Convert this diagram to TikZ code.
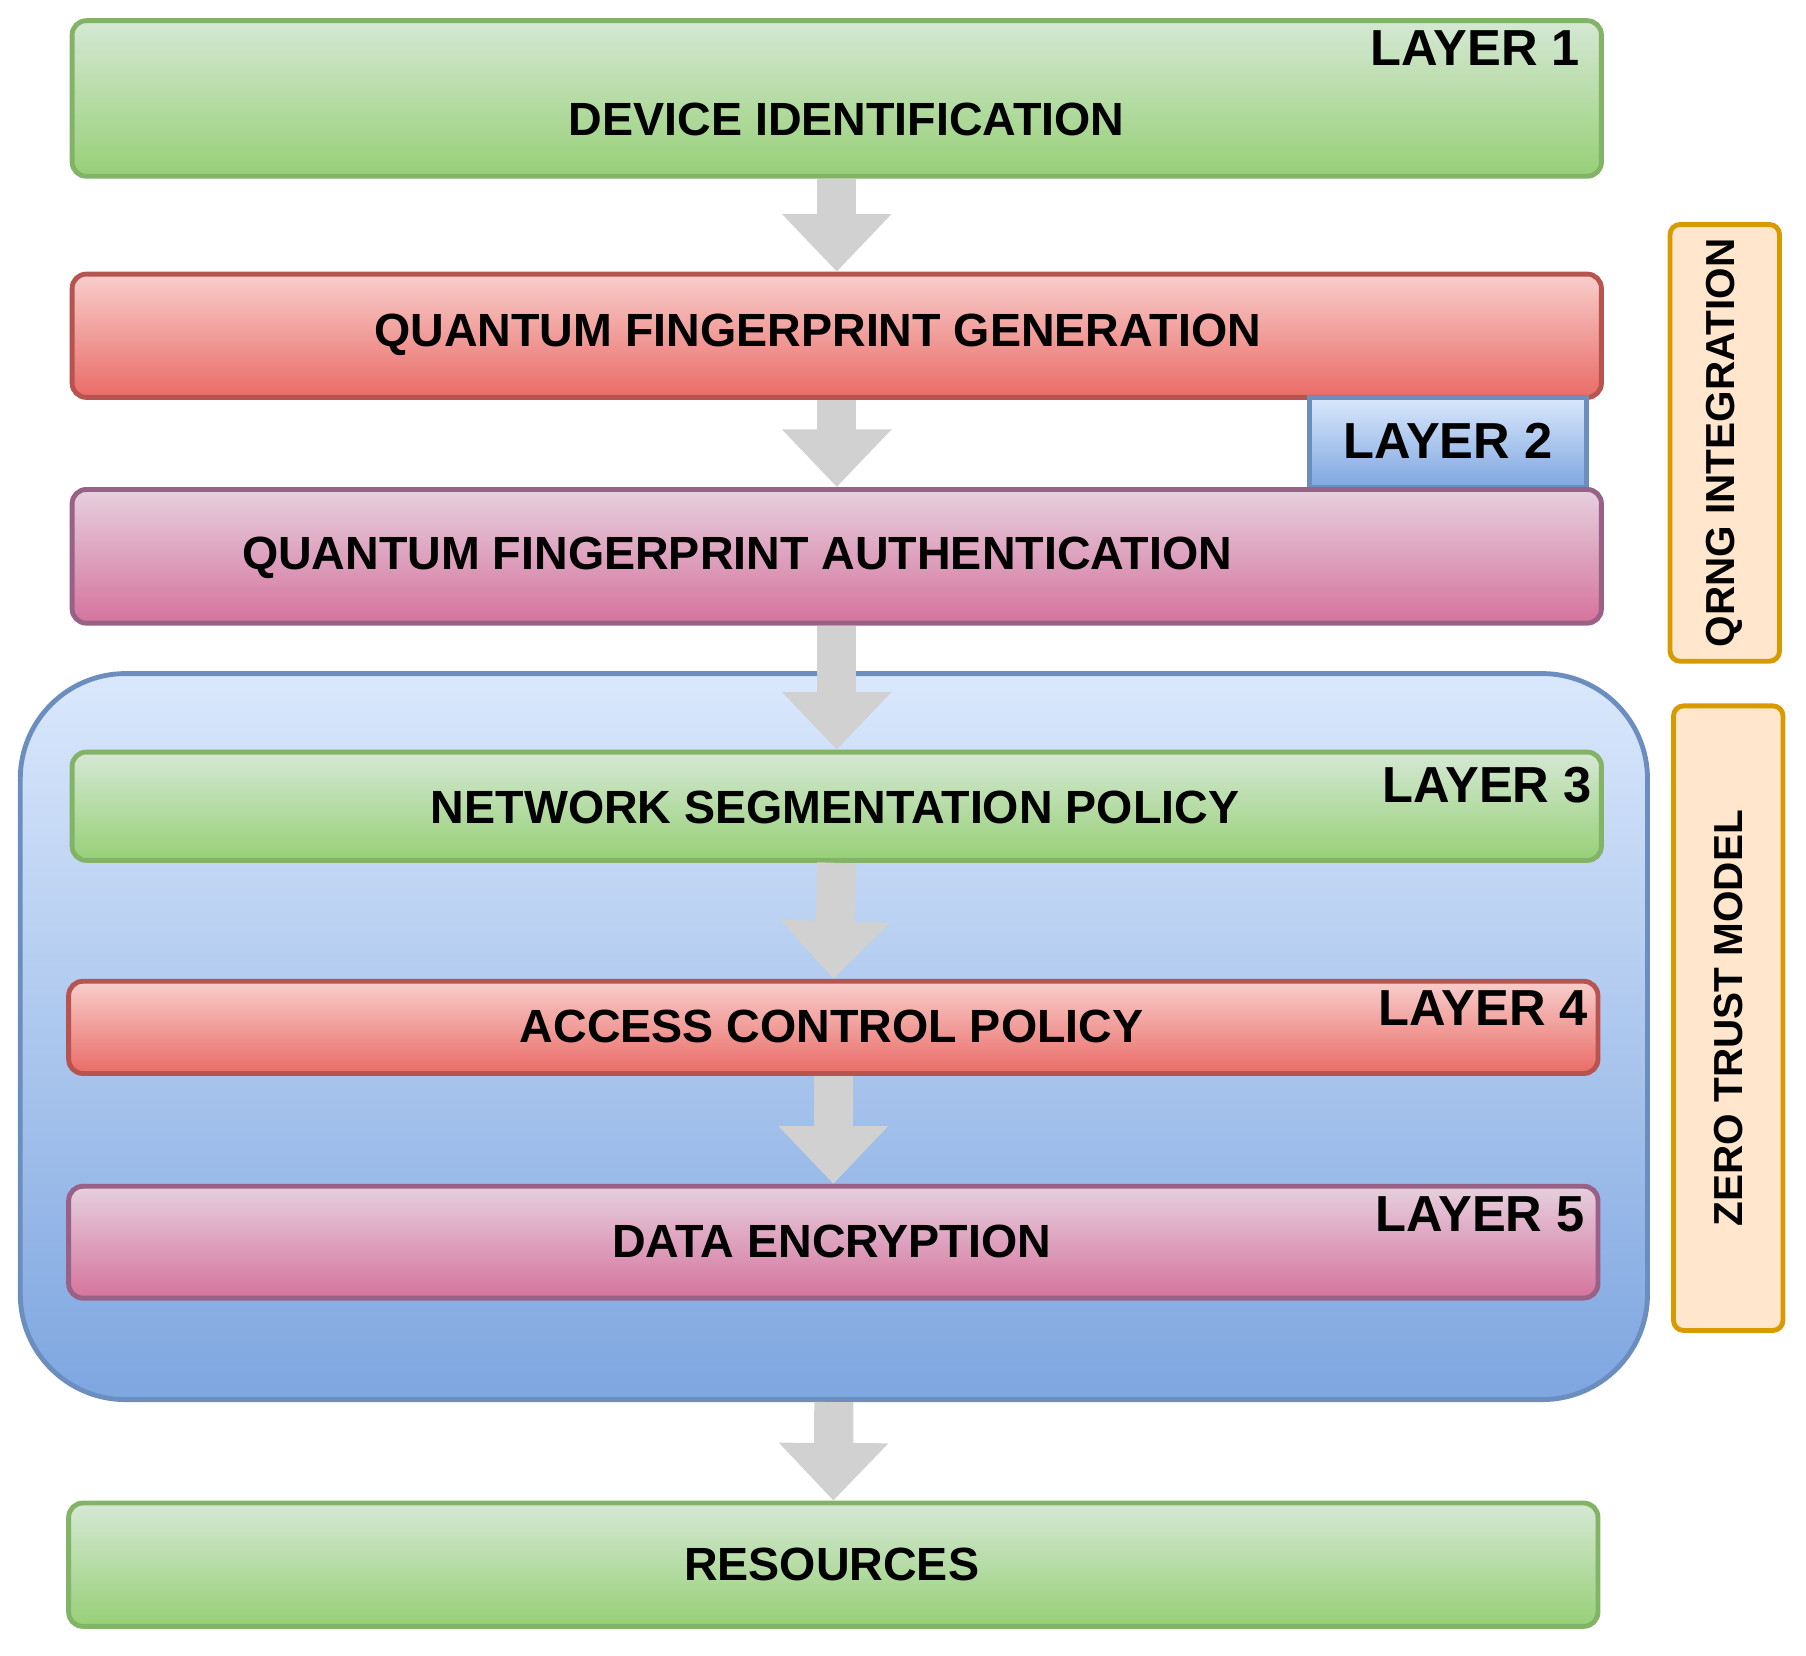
\documentclass[tikz,border=0pt]{standalone}
\usepackage{fontspec}
\setmainfont{Liberation Sans}
\usetikzlibrary{arrows.meta}
\definecolor{GreenTop}{HTML}{D5E8D4}
\definecolor{GreenBot}{HTML}{97D077}
\definecolor{GreenLine}{HTML}{82B366}
\definecolor{RedTop}{HTML}{F8CECC}
\definecolor{RedBot}{HTML}{EA6B66}
\definecolor{RedLine}{HTML}{B85450}
\definecolor{PinkTop}{HTML}{E6D0DE}
\definecolor{PinkBot}{HTML}{D5739D}
\definecolor{PinkLine}{HTML}{996185}
\definecolor{BlueTop}{HTML}{DAE8FC}
\definecolor{BlueBot}{HTML}{7EA6E0}
\definecolor{BlueLine}{HTML}{6C8EBF}
\definecolor{OrangeFill}{HTML}{FFE6CC}
\definecolor{OrangeLine}{HTML}{D79B00}
\tikzset{%
	% Style of the layer box
	Box/.style={rectangle,rounded corners=3.5pt,line width=1.2pt,inner sep=0},
	GreenBox/.style={Box,draw=GreenLine,top color=GreenTop,bottom color=GreenBot},
	RedBox/.style={Box,draw=RedLine,top color=RedTop,bottom color=RedBot},
	PinkBox/.style={Box,draw=PinkLine,top color=PinkTop,bottom color=PinkBot},
	% Style of the texts
	BoxName/.style={font=\fontsize{11.5}{13}\selectfont\bfseries,black},
	LayerName/.style={font=\fontsize{12.5}{14}\selectfont\bfseries,black},
	SideName/.style={font=\fontsize{10}{12}\selectfont\bfseries,black},
	% Style of the side bars
	SideBar/.style={rectangle,rounded corners=2.5pt,line width=1.2pt,draw=OrangeLine,fill=OrangeFill},
	% Style of the flow arrow
	BlockArrow/.style={line width=0.34cm,draw=black!18,-{Triangle[length=0.5cm,width=0.92cm]}},
}
\begin{document}
\begin{tikzpicture}[x=0.01cm,y=-0.01cm]
\useasboundingbox (0,0) rectangle (1568,1437);

%~~~~~~~~~~~~~~~~~~~~~~~~~~~~~~~~~~~~~~~~~~~~~~~~~~
% Zero trust area
%~~~~~~~~~~~~~~~~~~~~~~~~~~~~~~~~~~~~~~~~~~~~~~~~~~
\node[rectangle,rounded corners=26pt,line width=1.2pt,draw=BlueLine,top color=BlueTop,bottom color=BlueBot,
	minimum width=14.12cm,minimum height=6.30cm] (ZT) at (724, 900) {};

%~~~~~~~~~~~~~~~~~~~~~~~~~~~~~~~~~~~~~~~~~~~~~~~~~~
% Set Layers
%~~~~~~~~~~~~~~~~~~~~~~~~~~~~~~~~~~~~~~~~~~~~~~~~~~
\node[GreenBox,minimum width=13.27cm,minimum height=1.35cm] (L1) at (726.5, 85.5) {};
\node[LayerName] at (1281, 42) {LAYER 1};
\node[BoxName] at (735, 104) {DEVICE IDENTIFICATION};

\node[RedBox,minimum width=13.27cm,minimum height=1.07cm] (QFG) at (726.5, 291.5) {};
\node[BoxName] at (710, 291) {QUANTUM FINGERPRINT GENERATION};

\node[rectangle,line width=1.2pt,draw=BlueLine,top color=BlueTop,bottom color=BlueBot,
	minimum width=2.40cm,minimum height=0.78cm] (L2) at (1257, 384) {};
\node[LayerName] at (1257, 383) {LAYER 2};

\node[PinkBox,minimum width=13.27cm,minimum height=1.16cm] (QFA) at (726.5, 483) {};
\node[BoxName] at (640, 484) {QUANTUM FINGERPRINT AUTHENTICATION};

\node[GreenBox,minimum width=13.27cm,minimum height=0.94cm] (NSP) at (726.5, 700) {};
\node[LayerName] at (1291, 682) {LAYER 3};
\node[BoxName] at (725, 701) {NETWORK SEGMENTATION POLICY};

\node[RedBox,minimum width=13.27cm,minimum height=0.80cm] (ACP) at (723.5, 892) {};
\node[LayerName] at (1288, 875) {LAYER 4};
\node[BoxName] at (722, 891) {ACCESS CONTROL POLICY};

\node[PinkBox,minimum width=13.27cm,minimum height=0.97cm] (DE) at (723.5, 1078.5) {};
\node[LayerName] at (1285, 1054) {LAYER 5};
\node[BoxName] at (722, 1078) {DATA ENCRYPTION};

\node[GreenBox,minimum width=13.27cm,minimum height=1.07cm] (RES) at (723.5, 1358.5) {};
\node[BoxName] at (722, 1358) {RESOURCES};

%~~~~~~~~~~~~~~~~~~~~~~~~~~~~~~~~~~~~~~~~~~~~~~~~~~
% Side bars
%~~~~~~~~~~~~~~~~~~~~~~~~~~~~~~~~~~~~~~~~~~~~~~~~~~
\node[SideBar,minimum width=0.95cm,minimum height=3.79cm] (QRNG) at (1497.5, 384.5) {};
\node[SideName,rotate=90] at (QRNG) {QRNG INTEGRATION};

\node[SideBar,minimum width=0.95cm,minimum height=5.42cm] (ZTM) at (1500.5, 884) {};
\node[SideName,rotate=90] at (ZTM) {ZERO TRUST MODEL};

%~~~~~~~~~~~~~~~~~~~~~~~~~~~~~~~~~~~~~~~~~~~~~~~~~~
% Set Arrows
%~~~~~~~~~~~~~~~~~~~~~~~~~~~~~~~~~~~~~~~~~~~~~~~~~~
\draw[BlockArrow] (L1.south) -- (QFG.north);
\draw[BlockArrow] (QFG.south) -- (QFA.north);
\draw[BlockArrow] (QFA.south) -- (NSP.north);
\draw[BlockArrow] (NSP.south) -- (ACP.north);
\draw[BlockArrow] (ACP.south) -- (DE.north);
\draw[BlockArrow] (ZT.south) -- (RES.north);

\end{tikzpicture}
\end{document}
